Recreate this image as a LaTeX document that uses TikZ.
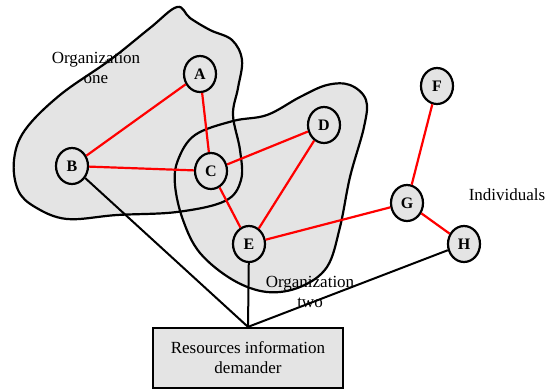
\documentclass[tikz,border=0pt]{standalone}
\usepackage{fontspec}
\setmainfont{Liberation Serif}
\usetikzlibrary{shapes.geometric}
\definecolor{fillgray}{RGB}{228,228,228}
\begin{document}
\begin{tikzpicture}[x=1pt,y=-1pt,
  vert/.style={ellipse, draw, line width=2.2pt, fill=fillgray, minimum width=32pt, minimum height=36pt, inner sep=0pt, font=\fontsize{16}{16}\selectfont\bfseries},
  rel/.style={red, line width=2.2pt},
  link/.style={black, line width=2pt},
  blob/.style={line width=2.2pt},
  lbl/.style={font=\fontsize{17}{20}\selectfont, align=center}]
\useasboundingbox (0,0) rectangle (549,391);
\def\orgone{(177,7) (190,18) (210,30) (232,40) (242,60) (238,88) (233,115) (240,150) (241,180) (225,201) (177,212) (117,215) (67,219) (35,207) (18,190) (14,160) (25,130) (60,95) (110,60) (150,28)}
\def\orgtwo{(327,85) (350,85) (366,100) (364,127) (350,177) (340,227) (327,267) (300,287) (267,292) (233,280) (200,253) (183,220) (175,185) (178,160) (195,135) (233,121) (267,115) (300,97)}
\fill[fillgray] plot[smooth cycle, tension=0.6] coordinates {\orgone};
\fill[fillgray] plot[smooth cycle, tension=0.6] coordinates {\orgtwo};
\draw[blob] plot[smooth cycle, tension=0.6] coordinates {\orgone};
\draw[blob] plot[smooth cycle, tension=0.6] coordinates {\orgtwo};
\node[lbl] (l1) at (96,68) {Organization\\one};
\node[lbl] (l2) at (310,292) {Organization\\two};
\node[lbl] (l3) at (507,195) {Individuals};
\node[vert] (A) at (200,74) {A};
\node[vert] (B) at (72,166) {B};
\node[vert] (C) at (211,171) {C};
\node[vert] (D) at (324,125) {D};
\node[vert] (E) at (249,244) {E};
\node[vert] (F) at (437,86) {F};
\node[vert] (G) at (407,203) {G};
\node[vert] (H) at (464,244) {H};
\node[draw, line width=2.2pt, fill=fillgray, minimum width=190pt, minimum height=60pt, inner sep=0pt, lbl] (box) at (248,358) {Resources information\\demander};
\draw[rel] (A) -- (B);
\draw[rel] (A) -- (C);
\draw[rel] (B) -- (C);
\draw[rel] (C) -- (D);
\draw[rel] (C) -- (E);
\draw[rel] (D) -- (E);
\draw[rel] (E) -- (G);
\draw[rel] (G) -- (F);
\draw[rel] (G) -- (H);
\draw[link] (B) -- (box.north);
\draw[link] (E) -- (box.north);
\draw[link] (H) -- (box.north);
\end{tikzpicture}
\end{document}
